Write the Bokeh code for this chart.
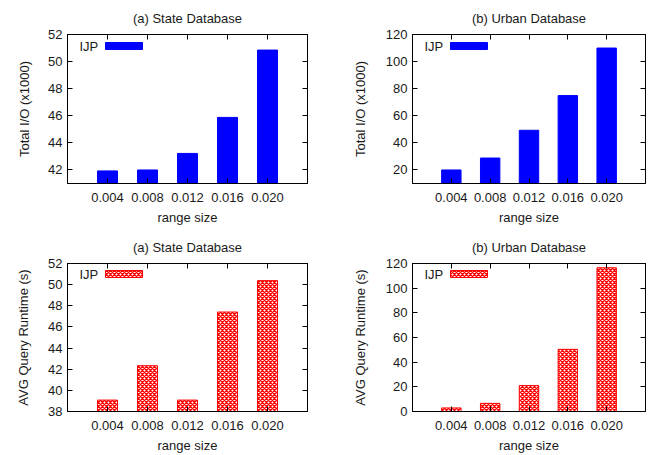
from bokeh.plotting import figure
from bokeh.layouts import gridplot
from bokeh.models import (FactorRange, Range1d, FixedTicker, LinearAxis, CategoricalAxis,
                          CustomJSTickFormatter, BoxAnnotation, Label)
from bokeh.embed import file_html
from bokeh.resources import INLINE

range_sizes = ["0.004", "0.008", "0.012", "0.016", "0.020"]
state_io = [41.93, 42.0, 43.22, 45.88, 50.85]
urban_io = [20.0, 28.8, 49.3, 74.9, 110.0]
state_rt = [39.08, 42.33, 39.08, 47.41, 50.38]
urban_rt = [2.9, 6.6, 21.0, 50.4, 116.5]

FONT = "Liberation Sans"
TXT = "#1a1a1a"
FS = "13px"


def panel(title, ylabel, values, ystart, yend, ticks, hatched, w, h, bl, br, bt, bb, lstand):
    p = figure(width=w, height=h, output_backend="svg", toolbar_location=None,
               x_range=FactorRange(*range_sizes, range_padding=0.2),
               y_range=Range1d(ystart, yend),
               min_border_left=bl, min_border_right=br, min_border_top=bt, min_border_bottom=bb)
    p.title.text = title
    p.title.align = "center"
    p.title.text_font = FONT
    p.title.text_font_size = FS
    p.title.text_font_style = "normal"
    p.title.text_color = TXT
    p.title.standoff = 17
    p.xgrid.visible = False
    p.ygrid.visible = False
    p.outline_line_color = "black"
    p.outline_line_width = 1
    p.background_fill_color = "white"
    p.border_fill_color = "white"

    if hatched:
        style = dict(fill_color="white", line_color="#ff0000", line_width=1,
                     hatch_pattern="x", hatch_color="#ff0000", hatch_scale=4, hatch_weight=1.4)
    else:
        style = dict(fill_color="#0000ff", line_color="#0000ff", line_width=1)
    p.vbar(x=range_sizes, top=values, bottom=ystart, width=0.5, **style)

    for ax in (p.xaxis[0], p.yaxis[0]):
        ax.major_tick_in = 5
        ax.major_tick_out = 0
        ax.minor_tick_in = 0
        ax.minor_tick_out = 0
        ax.axis_line_color = "black"
        ax.major_tick_line_color = "black"
        ax.major_label_text_font = FONT
        ax.major_label_text_font_size = FS
        ax.major_label_text_color = TXT
        ax.axis_label_text_font = FONT
        ax.axis_label_text_font_size = FS
        ax.axis_label_text_font_style = "normal"
        ax.axis_label_text_color = TXT
    p.yaxis[0].ticker = FixedTicker(ticks=ticks)
    p.yaxis[0].axis_label = ylabel
    p.yaxis[0].major_label_standoff = 5
    p.yaxis[0].axis_label_standoff = lstand
    p.xaxis[0].axis_label = "range size"
    p.xaxis[0].major_label_standoff = 9
    p.xaxis[0].axis_label_standoff = 5

    ra = LinearAxis(ticker=FixedTicker(ticks=ticks), major_tick_in=5, major_tick_out=0,
                    minor_tick_in=0, minor_tick_out=0,
                    major_label_overrides={t: "" for t in ticks},
                    major_label_standoff=0, axis_line_color="black")
    p.add_layout(ra, "right")
    ta = CategoricalAxis(major_tick_in=5, major_tick_out=0,
                         formatter=CustomJSTickFormatter(code="return ''"),
                         major_label_standoff=0, axis_line_color="black")
    p.add_layout(ta, "above")

    p.add_layout(BoxAnnotation(left=38, right=75, top=141, bottom=134,
                               left_units="screen", right_units="screen",
                               top_units="screen", bottom_units="screen",
                               level="overlay", fill_alpha=1, line_alpha=1, **style))
    p.add_layout(Label(x=12, y=137, x_units="screen", y_units="screen", text="IJP",
                       text_font=FONT, text_font_size=FS, text_color=TXT,
                       text_baseline="middle"))
    return p


p1 = panel("(a) State Database", "Total I/O (x1000)", state_io, 41, 52,
           [42, 44, 46, 48, 50, 52], False, 332, 228, 67, 25, 33, 45, 13)
p2 = panel("(b) Urban Database", "Total I/O (x1000)", urban_io, 10, 120,
           [20, 40, 60, 80, 100, 120], False, 333, 228, 80, 20, 33, 45, 15)
p3 = panel("(a) State Database", "AVG Query Runtime (s)", state_rt, 38, 52,
           [38, 40, 42, 44, 46, 48, 50, 52], True, 332, 227, 67, 25, 35, 41, 14)
p4 = panel("(b) Urban Database", "AVG Query Runtime (s)", urban_rt, 0, 120,
           [0, 20, 40, 60, 80, 100, 120], True, 333, 227, 80, 20, 35, 41, 15)

grid = gridplot([[p1, p2], [p3, p4]], toolbar_location=None)
open("out.html", "w").write(file_html(grid, INLINE))
